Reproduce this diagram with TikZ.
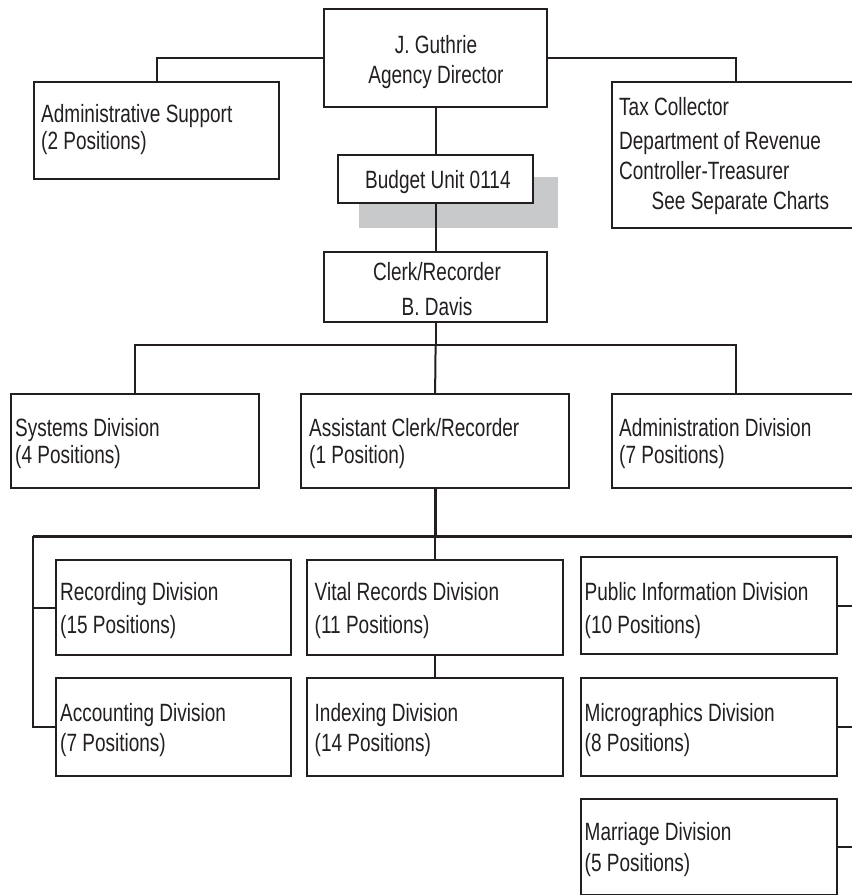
\documentclass[tikz,border=0pt]{standalone}
\usepackage{fontspec}
\setmainfont{Liberation Sans}[FakeStretch=0.76]
\definecolor{ink}{RGB}{35,31,32}
\definecolor{mist}{RGB}{200,201,203}
\begin{document}
\begin{tikzpicture}[x=1pt,y=-1pt,
  unit/.style={draw=ink, line width=2.2pt, fill=white, inner sep=0pt, anchor=north west},
  boxtext/.style={inner sep=0pt, anchor=north west, align=left, text=ink,
                  font=\fontsize{25}{#1}\selectfont},
  boxtext/.default=30,
  link/.style={draw=ink, line width=2pt},
  trunk/.style={draw=ink, line width=3pt}]
\clip (0,0) rectangle (852,895);

% drop shade behind the budget unit
\node[fill=mist, inner sep=0pt, minimum width=199pt, minimum height=51pt, anchor=north west]
  (budgetDrop) at (359,177) {};

% boxes
\node[unit, minimum width=223pt, minimum height=98pt]  (dir)        at (323,8)   {};
\node[unit, minimum width=245pt, minimum height=97pt]  (admsup)     at (33,81)   {};
\node[unit, minimum width=248pt, minimum height=146pt] (tax)        at (611,81)  {};
\node[unit, minimum width=195pt, minimum height=48pt]  (budget)     at (337,154) {};
\node[unit, minimum width=223pt, minimum height=70pt]  (clerk)      at (323,251) {};
\node[unit, minimum width=248pt, minimum height=94pt]  (systems)    at (10,393)  {};
\node[unit, minimum width=268pt, minimum height=94pt]  (assist)     at (300,393) {};
\node[unit, minimum width=248pt, minimum height=94pt]  (admdiv)     at (611,393) {};
\node[unit, minimum width=235pt, minimum height=95pt]  (recording)  at (55,559)  {};
\node[unit, minimum width=256pt, minimum height=95pt]  (vital)      at (306,559) {};
\node[unit, minimum width=256pt, minimum height=97pt]  (public)     at (580,556) {};
\node[unit, minimum width=235pt, minimum height=98pt]  (accounting) at (55,677)  {};
\node[unit, minimum width=256pt, minimum height=98pt]  (indexing)   at (306,677) {};
\node[unit, minimum width=256pt, minimum height=98pt]  (micro)      at (580,677) {};
\node[unit, minimum width=256pt, minimum height=96pt]  (marriage)   at (580,798) {};

% texts
\node[boxtext=30, anchor=north, align=center] (dirT) at (436,35) {J. Guthrie\\Agency Director};
\node[boxtext=27.5] (admsupT) at (41,104) {Administrative Support\\(2 Positions)};
\node[boxtext=26] (taxT) at (619,97.5)
  {Tax Collector\\[7.4pt]Department of Revenue\\[4pt]Controller-Treasurer\\[4pt]\hspace*{32.5pt}See Separate Charts};
\node[boxtext] (budgetT) at (365,170.5) {Budget Unit 0114};
\node[boxtext=35, anchor=north, align=center] (clerkT) at (437,262) {Clerk/Recorder\\B. Davis};
\node[boxtext=27] (systemsT) at (15,418.3) {Systems Division\\(4 Positions)};
\node[boxtext=27] (assistT) at (309,418.3) {Assistant Clerk/Recorder\\(1 Position)};
\node[boxtext=27] (admdivT) at (619,418.3) {Administration Division\\(7 Positions)};
\node[boxtext=33.4] (recordingT) at (60,581.7) {Recording Division\\(15 Positions)};
\node[boxtext=33.4] (vitalT) at (314.5,581.7) {Vital Records Division\\(11 Positions)};
\node[boxtext=33.4] (publicT) at (584.5,581.7) {Public Information Division\\(10 Positions)};
\node[boxtext=30] (accountingT) at (60,703.3) {Accounting Division\\(7 Positions)};
\node[boxtext=30] (indexingT) at (314.5,703.3) {Indexing Division\\(14 Positions)};
\node[boxtext=30] (microT) at (584.5,703.3) {Micrographics Division\\(8 Positions)};
\node[boxtext=31.6] (marriageT) at (584.5,821.7) {Marriage Division\\(5 Positions)};

% upper connectors
\draw[link] (dir.south) -- (budget.north);
\draw[link] (budget.south) -- (clerk.north);
\draw[link] (dir.west) -| (admsup.north);
\draw[link] (dir.east) -| (tax.north);

% clerk to divisions
\coordinate (fork1) at (clerk.south |- 0,345);
\draw[link] (clerk.south) -- (fork1);
\draw[link] (systems.north) |- (fork1) -| (admdiv.north);
\draw[link] (fork1) -- (assist.north);

% assistant to the divisions below
\coordinate (fork2) at (assist.south |- 0,536);
\coordinate (westbus) at (33,536);
\coordinate (eastbus) at (872,536);
\draw[trunk] (assist.south) -- (fork2);
\draw[trunk] (westbus) -- (eastbus);
\draw[link] (fork2) -- (vital.north);
\draw[link] (vital.south) -- (indexing.north);
\draw[link] (recording.west) -| (westbus);
\draw[link] (westbus) |- (accounting.west);
\draw[link] (public.east) -| (eastbus);
\draw[link] (micro.east) -- (micro.east -| eastbus);
\draw[link] (eastbus) |- (marriage.east);
\end{tikzpicture}
\end{document}
